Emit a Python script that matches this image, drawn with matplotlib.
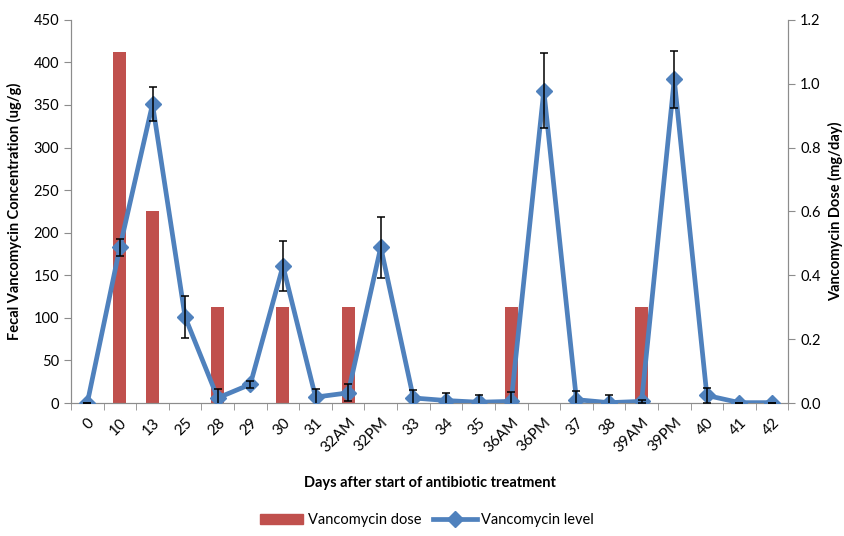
import numpy as np
import matplotlib
matplotlib.use("Agg")
import matplotlib.pyplot as plt
from matplotlib.lines import Line2D
from matplotlib.patches import Patch

plt.rcParams["font.family"] = ["Lato", "DejaVu Sans"]

days = ["0", "10", "13", "25", "28", "29", "30", "31", "32AM", "32PM", "33",
        "34", "35", "36AM", "36PM", "37", "38", "39AM", "39PM", "40", "41", "42"]
# fecal vancomycin level (ug/g) with error
level = [0, 183, 351, 101, 6, 22, 161, 7, 12, 183, 6,
         3, 1, 2, 367, 4, 0.5, 2, 380, 9, 0.5, 0.5]
level_err = [0, 10, 20, 25, 10, 4, 29, 10, 10, 36, 9,
             9, 8, 11, 44, 10, 9, 2, 33, 9, 0, 0]
# oral dose (mg/day)
dose = [0, 1.1, 0.6, 0, 0.3, 0, 0.3, 0, 0.3, 0, 0,
        0, 0, 0.3, 0, 0, 0, 0.3, 0, 0, 0, 0]

RED, BLUE, GREY = "#C0504D", "#4F81BD", "#8c8c8c"

fig = plt.figure(figsize=(8.45, 5.36), dpi=100)
ax = fig.add_axes([0.084, 0.248, 0.849, 0.715])
ax2 = ax.twinx()
x = np.arange(len(days))

ax2.bar(x, dose, width=0.4, color=RED, zorder=2)
ax.set_zorder(ax2.get_zorder() + 1)
ax.patch.set_visible(False)

ax.plot(x, level, color=BLUE, lw=3.4, marker="D", ms=8.5, zorder=3)
ax.errorbar(x, level, yerr=level_err, fmt="none", ecolor="black",
            elinewidth=1.1, capsize=3, capthick=1.1, zorder=4)

ax.set_xlim(-0.5, len(days) - 0.5)
ax.set_ylim(0, 450)
ax.set_yticks(np.arange(0, 451, 50))
ax2.set_ylim(0, 1.2)
ax2.set_yticks(np.arange(0, 1.21, 0.2))
ax2.set_yticklabels([f"{v:.1f}" for v in np.arange(0, 1.21, 0.2)])

ax.set_xticks(x)
ax.set_xticklabels(days, rotation=45, ha="right", rotation_mode="anchor", fontsize=11)
ax.set_xticks(np.arange(-0.5, len(days), 1), minor=True)
ax.tick_params(axis="x", which="major", length=0, pad=9)
ax.tick_params(axis="x", which="minor", length=5, color=GREY)
ax.tick_params(axis="y", length=5, color=GREY, labelsize=10.5)
ax2.tick_params(axis="y", length=5, color=GREY, labelsize=10.5)

for a in (ax, ax2):
    a.spines["top"].set_visible(False)
    for s in ("left", "right", "bottom"):
        a.spines[s].set_color(GREY)

ax.set_xlabel("Days after start of antibiotic treatment", fontsize=10.5,
              fontweight="bold", labelpad=15)
ax.set_ylabel("Fecal Vancomycin Concentration (ug/g)", fontsize=10.5,
              fontweight="bold", labelpad=8)
ax2.set_ylabel("Vancomycin Dose (mg/day)", fontsize=10.5, fontweight="bold", labelpad=5)

handles = [Patch(color=RED),
           Line2D([], [], color=BLUE, lw=3.4, marker="D", ms=8.5)]
fig.legend(handles, ["Vancomycin dose", "Vancomycin level"], loc="center",
           bbox_to_anchor=(0.505, 0.03), ncol=2, frameon=False, fontsize=10.5,
           handlelength=3, columnspacing=0.8, handletextpad=0.3)

fig.savefig("out.png", dpi=100)
